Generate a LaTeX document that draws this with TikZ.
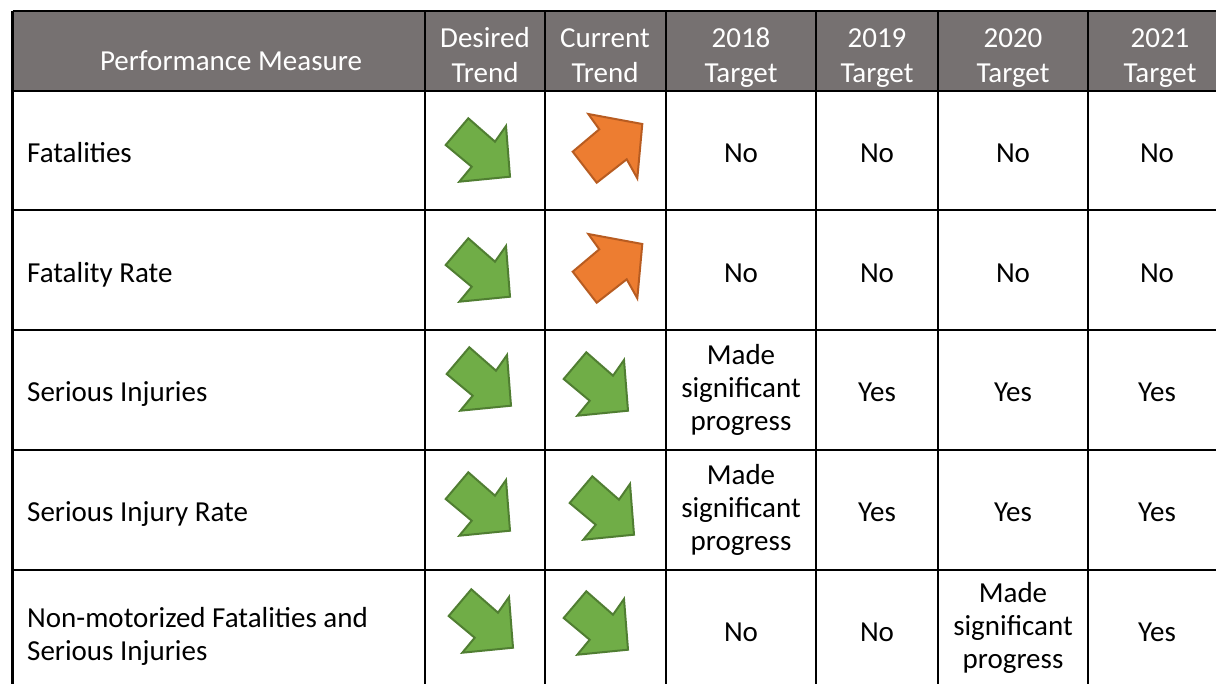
\documentclass[tikz,border=0pt]{standalone}
\usepackage{fontspec}
\setmainfont{Carlito}
\usepackage{xcolor}
\usetikzlibrary{positioning}

\definecolor{headgray}{HTML}{767171}
\definecolor{downgreen}{HTML}{70AD47}
\definecolor{downedge}{HTML}{507E32}
\definecolor{uporange}{HTML}{ED7D31}
\definecolor{upedge}{HTML}{B85C21}

\tikzset{
  cell/.style={align=center, inner sep=0pt, anchor=base,
    font=\fontsize{29}{33}\selectfont},
  head/.style={cell, text=white, font=\fontsize{29}{34.5}\selectfont},
  measure/.style={cell, anchor=base west, align=left},
  tabline/.style={line width=2.6pt},
  downarrow/.pic={
    \draw[fill=downgreen, draw=downedge, line width=2pt]
      (-32.3,-5) -- (-9.7,-31.7) -- (17,-8.3) -- (28,-24)
      -- (32,26.7) -- (-18.7,31.7) -- (-6.3,16.7) -- cycle;
  },
  uparrow/.pic={
    \draw[fill=uporange, draw=upedge, line width=2pt]
      (-34.3,3.7) -- (-10.3,34.7) -- (19.7,11.3) -- (30.3,30.3)
      -- (35.3,-24) -- (-18.7,-34) -- (-7.7,-18.7) -- cycle;
  }
}

\begin{document}
\begin{tikzpicture}[x=1pt,y=-1pt]
        \clip (0,0) rectangle (1216,683);
        \fill[white] (0,0) rectangle (1216,683);
        \fill[headgray] (12.7,11) rectangle (1240,91);

        % table rules
        \foreach \y in {11,91,210,330,450,570}
            \draw[tabline] (12.7,\y) -- (1240,\y);
        \foreach \x in {12.7,425,545,666,816,938,1088}
            \draw[tabline] (\x,11) -- (\x,700);

        % header (base = last line)
        \node[head] (hmeasure) at (231,70) {Performance Measure};
        \node[head] (hdesired) at (485,82.3) {Desired\\Trend};
        \node[head] (hcurrent) at (605,82.3) {Current\\Trend};
        \node[head] (h2018) at (741,82.3) {2018\\Target};
        \node[head] (h2019) at (877,82.3) {2019\\Target};
        \node[head] (h2020) at (1013,82.3) {2020\\Target};
        \node[head] (h2021) at (1160,82.3) {2021\\Target};

        % Fatalities
        \node[measure] (fat) at (27,162) {Fatalities};
        \pic at (478,150) {downarrow};
        \pic at (607,148) {uparrow};
        \node[cell] (fat18) at (741,162) {No};
        \node[cell] (fat19) at (877,162) {No};
        \node[cell] (fat20) at (1013,162) {No};
        \node[cell] (fat21) at (1157,162) {No};

        % Fatality Rate
        \node[measure] (fatrate) at (27,282) {Fatality Rate};
        \pic at (478,270) {downarrow};
        \pic at (607,268) {uparrow};
        \node[cell] (fatrate18) at (741,282) {No};
        \node[cell] (fatrate19) at (877,282) {No};
        \node[cell] (fatrate20) at (1013,282) {No};
        \node[cell] (fatrate21) at (1157,282) {No};

        % Serious Injuries
        \node[measure] (inj) at (27,401.5) {Serious Injuries};
        \pic at (479,379) {downarrow};
        \pic at (596,384) {downarrow};
        \node[cell] (inj18) at (741,430) {Made\\significant\\progress};
        \node[cell] (inj19) at (877,401.5) {Yes};
        \node[cell] (inj20) at (1013,401.5) {Yes};
        \node[cell] (inj21) at (1157,401.5) {Yes};

        % Serious Injury Rate
        \node[measure] (injrate) at (27,521.5) {Serious Injury Rate};
        \pic at (478,504) {downarrow};
        \pic at (602,508) {downarrow};
        \node[cell] (injrate18) at (741,550) {Made\\significant\\progress};
        \node[cell] (injrate19) at (877,521.5) {Yes};
        \node[cell] (injrate20) at (1013,521.5) {Yes};
        \node[cell] (injrate21) at (1157,521.5) {Yes};

        % Non-motorized
        \node[measure] (nonmot) at (27,660) {Non-motorized Fatalities and\\Serious Injuries};
        \pic at (481,621) {downarrow};
        \pic at (596,623) {downarrow};
        \node[cell] (nonmot18) at (741,641.5) {No};
        \node[cell] (nonmot19) at (877,641.5) {No};
        \node[cell] (nonmot20) at (1013,668) {Made\\significant\\progress};
        \node[cell] (nonmot21) at (1157,641.5) {Yes};
    \end{tikzpicture}
\end{document}
